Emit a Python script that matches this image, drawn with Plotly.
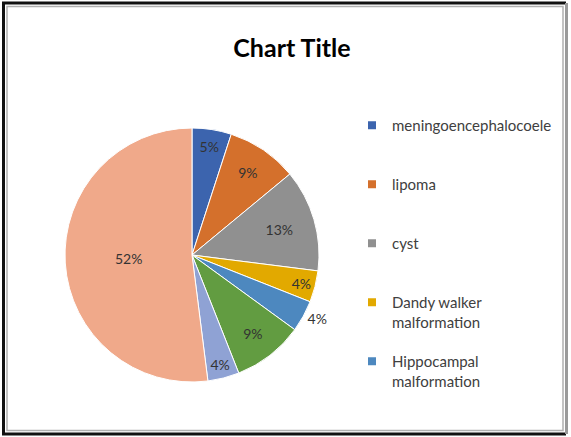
import plotly.graph_objects as go

W, H = 571, 437

categories = [
    "meningoencephalocoele",
    "lipoma",
    "cyst",
    "Dandy walker malformation",
    "Hippocampal malformation",
    "Category 6",
    "Category 7",
    "Category 8",
]
values = [5, 9, 13, 4, 4, 9, 4, 52]
colors = ["#3C64AE", "#D4702C", "#909090", "#E2A900", "#4D88BF", "#629C41", "#8FA2D4", "#F0A98A"]
label_positions = ["inside", "inside", "inside", "inside", "outside", "inside", "inside", "inside"]

# legend shows only the first five entries (as in the reference)
legend_names = [
    "meningoencephalocoele<br>\u00a0",
    "lipoma<br>\u00a0",
    "cyst<br>\u00a0",
    "Dandy walker<br>malformation",
    "Hippocampal<br>malformation",
]

fig = go.Figure()

cx, cy, r = 192, 255, 127
fig.add_trace(go.Pie(
    labels=categories,
    values=values,
    sort=False,
    direction="clockwise",
    rotation=0,
    marker=dict(colors=colors, line=dict(color="white", width=1)),
    textinfo="percent",
    textposition=label_positions,
    insidetextorientation="horizontal",
    textfont=dict(family="Lato", size=14, color="#333333"),
    showlegend=False,
    hoverinfo="label+percent",
    domain=dict(x=[(cx - r) / W, (cx + r) / W], y=[1 - (cy + r) / H, 1 - (cy - r) / H]),
))

for name, col in zip(legend_names, colors[:5]):
    fig.add_trace(go.Scatter(
        x=[None], y=[None], mode="markers", name=name, legendgroup=name,
        marker=dict(symbol="square", size=8, color=col),
    ))

shapes = [
    # outer dark frame (left, top, bottom)
    dict(type="path", xref="paper", yref="paper",
         path=f"M {566/W},{1-3/H} L {3.5/W},{1-3/H} L {3.5/W},{1-434/H} L {566/W},{1-434/H}",
         line=dict(color="#111111", width=3)),
    dict(type="line", xref="paper", yref="paper", x0=566.5 / W, x1=566.5 / W, y0=1 - 3 / H, y1=1 - 434 / H,
         line=dict(color="#9a9a9a", width=3)),
    dict(type="rect", xref="paper", yref="paper", x0=7 / W, x1=563 / W, y0=1 - 6.5 / H, y1=1 - 430.5 / H,
         line=dict(color="#b0b0b0", width=1.5)),
]

fig.update_layout(
    width=W, height=H,
    margin=dict(l=0, r=0, t=0, b=0),
    paper_bgcolor="white", plot_bgcolor="white",
    title=dict(text="<b>Chart Title</b>", x=292 / W, xanchor="center", y=1 - 48 / H, yanchor="middle",
               font=dict(family="Lato", size=25, color="#000000")),
    xaxis=dict(visible=False), yaxis=dict(visible=False),
    legend=dict(x=352 / W, xanchor="left", y=1 - 109 / H, yanchor="top",
                font=dict(family="Lato", size=15, color="#404040"),
                valign="top", tracegroupgap=17, bgcolor="rgba(0,0,0,0)"),
    uniformtext=dict(minsize=14, mode="show"),
    shapes=shapes,
)

fig.write_html("out.html", config={"displayModeBar": False},
               post_script="document.body.style.margin='0';")
